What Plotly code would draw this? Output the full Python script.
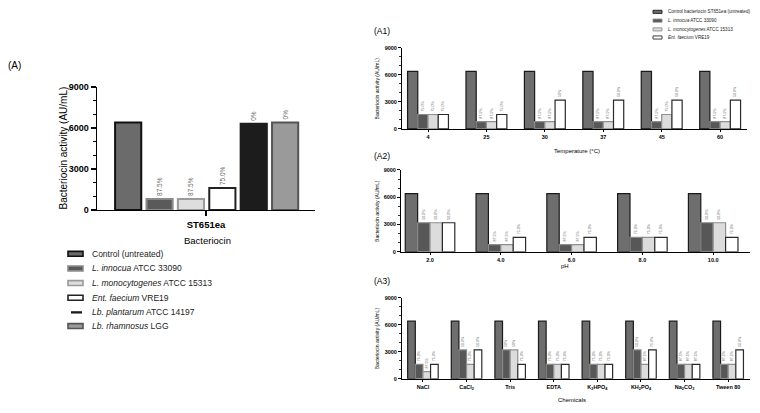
import plotly.graph_objects as go

W, H = 760, 413
FONT = "Arial, Liberation Sans, sans-serif"


def px(x):
    return x / W


def py(y):
    return 1 - y / H


# ---------------- Panel (A) data ----------------
a_category = ["ST651ea"]
a_strains = [
    "Control (untreated)",
    "<i>L. innocua</i> ATCC 33090",
    "<i>L. monocytogenes</i> ATCC 15313",
    "<i>Ent. faecium</i> VRE19",
    "<i>Lb. plantarum</i> ATCC 14197",
    "<i>Lb. rhamnosus</i> LGG",
]
a_values = [6400, 800, 800, 1600, 6300, 6400]
a_labels = [None, "87.5%", "87.5%", "75.0%", "0%", "0%"]

# ---------------- Panel (A1) temperature ----------------
temp_cats = ["4", "25", "30", "37", "45", "60"]
temp_control = [6400, 6400, 6400, 6400, 6400, 6400]
temp_innocua = [1600, 800, 800, 800, 800, 800]
temp_mono = [1600, 800, 800, 800, 1600, 800]
temp_faecium = [1600, 1600, 3200, 3200, 3200, 3200]
temp_innocua_lbl = ["75.0%", "87.5%", "87.5%", "87.5%", "87.5%", "87.5%"]
temp_mono_lbl = ["75.0%", "87.5%", "87.5%", "87.5%", "75.0%", "87.5%"]
temp_faecium_lbl = ["75.0%", "75.0%", "50%", "50.0%", "50.0%", "50.0%"]

# ---------------- Panel (A2) pH ----------------
ph_cats = ["2.0", "4.0", "6.0", "8.0", "10.0"]
ph_control = [6400, 6400, 6400, 6400, 6400]
ph_innocua = [3200, 800, 800, 1600, 3200]
ph_mono = [3200, 800, 800, 1600, 3200]
ph_faecium = [3200, 1600, 1600, 1600, 1600]
ph_innocua_lbl = ["50.0%", "87.5%", "87.5%", "75.0%", "50.0%"]
ph_mono_lbl = ["50.0%", "87.5%", "87.5%", "75.0%", "50.0%"]
ph_faecium_lbl = ["50.0%", "75.0%", "75.0%", "75.0%", "75.0%"]

# ---------------- Panel (A3) chemicals ----------------
chem_cats = ["NaCl", "CaCl<sub>2</sub>", "Tris", "EDTA", "K<sub>2</sub>HPO<sub>4</sub>",
             "KH<sub>2</sub>PO<sub>4</sub>", "Na<sub>2</sub>CO<sub>3</sub>", "Tween 80"]
chem_control = [6400, 6400, 6400, 6400, 6400, 6400, 6400, 6400]
chem_innocua = [1600, 3200, 3200, 1600, 1600, 3200, 1600, 1600]
chem_mono = [800, 1600, 3200, 1600, 1600, 1600, 1600, 1600]
chem_faecium = [1600, 3200, 1600, 1600, 1600, 3200, 1600, 3200]
chem_innocua_lbl = ["75.0%", "50.0%", "50%", "75.0%", "75.0%", "50.0%", "87.5%", "87.5%"]
chem_mono_lbl = ["87.5%", "75.0%", "50%", "75.0%", "75.0%", "87.5%", "87.5%", "87.5%"]
chem_faecium_lbl = ["75.0%", "50.0%", "75.0%", "75.0%", "75.0%", "75.0%", "87.5%", "50.0%"]

right_series = [
    "Control bacteriocin ST651ea (untreated)",
    "<i>L. innocua</i> ATCC 33090",
    "<i>L. monocytogenes</i> ATCC 15313",
    "<i>Ent. faecium</i> VRE19",
]

# ---------------- styles ----------------
a_fill = ["#6b6b6b", "#5a5a5a", "#dedede", "#ffffff", "#1c1c1c", "#9a9a9a"]
a_line = ["#111111", "#8a8a8a", "#9a9a9a", "#222222", "#1c1c1c", "#555555"]
r_fill = ["#6e6e6e", "#575757", "#dcdcdc", "#ffffff"]
r_line = ["#1a1a1a", "#8a8a8a", "#8f8f8f", "#2a2a2a"]

fig = go.Figure()

# Panel A bars
a_width = 0.12
a_step = 0.144
a_start = -0.417
for i, name in enumerate(a_strains):
    kw = {}
    if a_labels[i] is not None:
        kw = dict(text=[a_labels[i]], textposition="outside", textangle=-90,
                  textfont=dict(family=FONT, size=6.5, color="#666666"),
                  constraintext="none")
    fig.add_trace(go.Bar(
        x=a_category, y=[a_values[i]], name=name, cliponaxis=False,
        width=a_width, offset=a_start + i * a_step,
        marker=dict(color=a_fill[i], line=dict(color=a_line[i], width=2)),
        xaxis="x", yaxis="y", showlegend=False, **kw,
    ))

panels = [
    ("x2", "y2", temp_cats, [temp_control, temp_innocua, temp_mono, temp_faecium],
     [None, temp_innocua_lbl, temp_mono_lbl, temp_faecium_lbl]),
    ("x3", "y3", ph_cats, [ph_control, ph_innocua, ph_mono, ph_faecium],
     [None, ph_innocua_lbl, ph_mono_lbl, ph_faecium_lbl]),
    ("x4", "y4", chem_cats, [chem_control, chem_innocua, chem_mono, chem_faecium],
     [None, chem_innocua_lbl, chem_mono_lbl, chem_faecium_lbl]),
]
r_width = 0.175
for xa, ya, cats, series, labels in panels:
    for i, vals in enumerate(series):
        kw = {}
        if labels[i] is not None:
            kw = dict(text=labels[i], textposition="outside", textangle=-90,
                      textfont=dict(family=FONT, size=3.6, color="#666666"),
                      constraintext="none")
        fig.add_trace(go.Bar(
            x=cats, y=vals, name=right_series[i], cliponaxis=False,
            width=r_width, offset=-0.35 + i * r_width,
            marker=dict(color=r_fill[i], line=dict(color=r_line[i], width=1.2)),
            xaxis=xa, yaxis=ya, showlegend=False, **kw,
        ))


# ---------------- axes ----------------
def yax(domain, anchor, big):
    return dict(
        domain=domain, anchor=anchor, range=[0, 9000], tickvals=[0, 3000, 6000, 9000],
        ticks="outside", ticklen=5 if big else 3, tickwidth=1.5 if big else 1,
        tickcolor="black", showline=True, linecolor="black", linewidth=1.5 if big else 1,
        showgrid=False, zeroline=False,
        tickfont=dict(family=FONT, size=9 if big else 5.5, color="black", weight="bold"),
        minor=dict(dtick=1000, tick0=0, ticks="outside", ticklen=3 if big else 2,
                   tickwidth=1.2 if big else 0.8, tickcolor="black", showgrid=False),
        fixedrange=True,
    )


def xax(domain, anchor, rng, big):
    return dict(
        domain=domain, anchor=anchor, type="category", range=rng,
        ticks="outside", ticklen=5 if big else 2.5, tickwidth=1.5 if big else 1,
        tickcolor="black", showline=True, linecolor="black", linewidth=1.5 if big else 1,
        showgrid=False, zeroline=False,
        tickfont=dict(family=FONT, size=9.5 if big else 5.5, color="black", weight="bold"),
        fixedrange=True,
    )


layout = dict(
    width=W, height=H, autosize=False,
    margin=dict(l=0, r=0, t=0, b=0),
    paper_bgcolor="white", plot_bgcolor="white",
    barmode="overlay", showlegend=False,
    font=dict(family=FONT, color="black"),
    xaxis=xax([px(97), px(315)], "y", [-0.5, 0.5], True),
    yaxis=yax([py(210), py(84)], "x", True),
    xaxis2=xax([px(402), px(747)], "y2", [-0.445, 5.46], False),
    yaxis2=yax([py(127), py(44)], "x2", False),
    xaxis3=xax([px(401), px(750)], "y3", [-0.41, 4.52], False),
    yaxis3=yax([py(253), py(169)], "x3", False),
    xaxis4=xax([px(402), px(750)], "y4", [-0.48, 7.5], False),
    yaxis4=yax([py(383), py(300)], "x4", False),
)
fig.update_layout(**layout)

annotations = []
shapes = []


def text(x, y, s, size, xanchor="center", angle=0, color="black"):
    annotations.append(dict(
        x=px(x), y=py(y), xref="paper", yref="paper", text=s, showarrow=False,
        xanchor=xanchor, yanchor="middle", textangle=angle,
        font=dict(family=FONT, size=size, color=color),
    ))


# panel labels
text(6, 62, "(A)", 10, "left")
text(372, 27, "(A1)", 8.5, "left")
text(372, 155, "(A2)", 8.5, "left")
text(372, 283, "(A3)", 8.5, "left")

# axis titles
text(63, 146, "Bacteriocin activity (AU/mL)", 10, angle=-90)
text(207, 241, "Bacteriocin", 9.5)
text(377, 85.5, "Bacteriocin activity (AU/mL)", 5, angle=-90)
text(377, 211, "Bacteriocin activity (AU/mL)", 5, angle=-90)
text(377, 341.5, "Bacteriocin activity (AU/mL)", 5, angle=-90)
text(577, 150, "Temperature (°C)", 6)
text(565, 267, "pH", 6)
text(572, 405, "Chemicals", 6)

# legend for panel A
a_rows = [255, 270, 285, 300, 315, 329]
for i, name in enumerate(a_strains):
    y = a_rows[i]
    if i == 4:
        shapes.append(dict(type="rect", xref="paper", yref="paper",
                           x0=px(71), x1=px(82), y0=py(y + 1.2), y1=py(y - 1.2),
                           fillcolor=a_fill[i], line=dict(width=0)))
    else:
        shapes.append(dict(type="rect", xref="paper", yref="paper",
                           x0=px(68), x1=px(83), y0=py(y + 2.5), y1=py(y - 2.5),
                           fillcolor=a_fill[i], line=dict(color=a_line[i], width=1.6)))
    text(90, y, name, 8.5, "left", color="#222222")

# legend for right panels
r_rows = [7, 16, 25, 33.3]
for i, name in enumerate(right_series):
    y = r_rows[i]
    shapes.append(dict(type="rect", xref="paper", yref="paper",
                       x0=px(653), x1=px(662), y0=py(y + 1.6), y1=py(y - 1.6),
                       fillcolor=r_fill[i], line=dict(color=r_line[i], width=0.9)))
    text(666, y, name, 4.6, "left", color="#222222")

fig.update_layout(annotations=annotations, shapes=shapes)

fig.write_html("out.html",
               config={"displayModeBar": False, "staticPlot": True},
               post_script="document.body.style.margin='0';document.body.style.padding='0';")
